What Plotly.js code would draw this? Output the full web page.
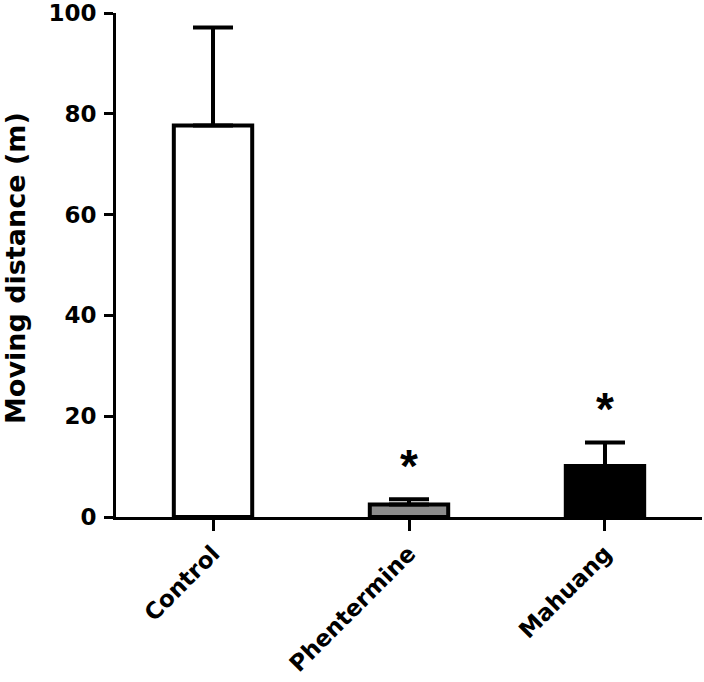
<!DOCTYPE html>
<html>
<head>
<meta charset="utf-8">
<script src="https://cdn.plot.ly/plotly-3.0.1.min.js"></script>
<style>html,body{margin:0;padding:0;background:#fff;}#chart{width:704px;height:682px;}</style>
</head>
<body>
<div id="chart"></div>
<script>
const categories = ["Control", "Phentermine", "Mahuang"];
const means = [77.7, 2.5, 10.1];
const errorsUp = [19.4, 1.0, 4.7];
const barColors = ["#ffffff", "#8c8c8c", "#000000"];
const significance = ["", "*", "*"];
const yTicks = [0, 20, 40, 60, 80, 100];
const yTitle = "Moving distance (m)";

const FONT = "DejaVu Sans, sans-serif";
const STAR_FONT = "Liberation Sans, Arial, sans-serif";

const trace = {
  type: "bar",
  x: categories,
  y: means,
  width: 0.4,
  marker: { color: barColors, line: { color: "#000", width: 4 } },
  error_y: {
    type: "data",
    symmetric: false,
    array: errorsUp,
    arrayminus: means.map(() => 0),
    color: "#000",
    thickness: 4,
    width: 20
  },
  hoverinfo: "none"
};

const annotations = categories.map((c, i) => significance[i] ? {
  x: c,
  y: means[i] + errorsUp[i],
  xref: "x", yref: "y",
  text: significance[i],
  showarrow: false,
  yanchor: "bottom",
  yshift: 5,
  font: { family: STAR_FONT, size: 46, color: "#000", weight: "bold" }
} : null).filter(Boolean);

annotations.push({
  xref: "paper", yref: "paper",
  x: 0, y: 0.5,
  xshift: -101, yshift: -3,
  xanchor: "center", yanchor: "middle",
  text: yTitle,
  textangle: -90,
  showarrow: false,
  font: { family: FONT, size: 27, color: "#000", weight: "bold" }
});

const layout = {
  width: 704, height: 682,
  margin: { l: 116, r: 2, t: 13, b: 165 },
  paper_bgcolor: "#fff",
  plot_bgcolor: "#fff",
  showlegend: false,
  font: { family: FONT, color: "#000" },
  xaxis: {
    range: [-0.495, 2.495],
    showline: true, linecolor: "#000", linewidth: 3,
    ticks: "outside", ticklen: 11, tickwidth: 3, tickcolor: "#000",
    tickangle: -45,
    tickfont: { family: FONT, size: 23, color: "#000", weight: "bold" },
    showgrid: false, zeroline: false
  },
  yaxis: {
    range: [0, 100],
    tickvals: yTicks,
    showline: true, linecolor: "#000", linewidth: 3,
    ticks: "outside", ticklen: 9, tickwidth: 3, tickcolor: "#000",
    ticklabelstandoff: 3,
    tickfont: { family: FONT, size: 23, color: "#000", weight: "bold" },
    showgrid: false, zeroline: false
  },
  annotations: annotations
};

Plotly.newPlot("chart", [trace], layout, { staticPlot: true, displayModeBar: false });
</script>
</body>
</html>
